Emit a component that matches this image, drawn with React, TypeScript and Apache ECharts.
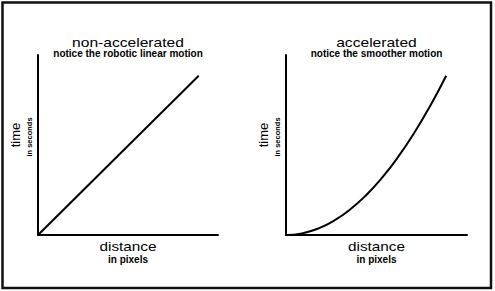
import React, { useEffect, useRef } from "react";
import * as echarts from "echarts";

// Reference values
const linearDistance = [0, 100];
const linearTime = [0, 100];
const accelDistance = [0, 10, 20, 30, 40, 50, 60, 70, 80, 90, 100];
const accelTime = [0, 1, 4, 9, 16, 25, 36, 49, 64, 81, 100];

const panelTitles = ["non-accelerated", "accelerated"];
const panelSubtitles = ["notice the robotic linear motion", "notice the smoother motion"];
const xAxisTitle = "distance";
const xAxisSubtitle = "in pixels";
const yAxisTitle = "time";
const yAxisSubtitle = "in seconds";

const FONT = "'Liberation Sans', Arial, Helvetica, sans-serif";

export default function App() {
  const ref = useRef<HTMLDivElement>(null);

  useEffect(() => {
    if (!ref.current) return;
    const chart = echarts.init(ref.current, null, { renderer: "svg" });

    const grids = [
      { left: 38, top: 55, width: 180, height: 180 },
      { left: 286, top: 55, width: 181, height: 180 },
    ];

    const axisCommon = {
      type: "value" as const,
      min: 0,
      axisLine: { show: true, onZero: false, lineStyle: { color: "#000", width: 2 } },
      axisTick: { show: false },
      axisLabel: { show: false },
      splitLine: { show: false },
    };

    const texts: any[] = [];
    grids.forEach((g, i) => {
      const cx = g.left + g.width / 2;
      const ax = g.left;
      texts.push(
        {
          type: "text",
          x: cx,
          y: 42.3,
          scaleX: 1.3,
          style: { text: panelTitles[i], font: `12px ${FONT}`, fill: "#000", textAlign: "center", textVerticalAlign: "middle" },
        },
        {
          type: "text",
          x: cx,
          y: 53.3,
          style: { text: panelSubtitles[i], font: `bold 10px ${FONT}`, fill: "#000", textAlign: "center", textVerticalAlign: "middle" },
        },
        {
          type: "text",
          x: cx,
          y: 246.2,
          scaleX: 1.18,
          style: { text: xAxisTitle, font: `13px ${FONT}`, fill: "#000", textAlign: "center", textVerticalAlign: "middle" },
        },
        {
          type: "text",
          x: cx,
          y: 259.5,
          style: { text: xAxisSubtitle, font: `bold 10px ${FONT}`, fill: "#000", textAlign: "center", textVerticalAlign: "middle" },
        },
        {
          type: "text",
          x: ax - 22.5,
          y: 135,
          rotation: Math.PI / 2,
          style: { text: yAxisTitle, font: `13px ${FONT}`, fill: "#000", textAlign: "center", textVerticalAlign: "middle" },
        },
        {
          type: "text",
          x: ax - 8.8,
          y: 137,
          rotation: Math.PI / 2,
          style: { text: yAxisSubtitle, font: `bold 7.5px ${FONT}`, fill: "#000", textAlign: "center", textVerticalAlign: "middle" },
        }
      );
    });

    chart.setOption({
      animation: false,
      backgroundColor: "#fff",
      grid: grids,
      xAxis: [
        { ...axisCommon, gridIndex: 0, max: 112 },
        { ...axisCommon, gridIndex: 1, max: 113 },
      ],
      yAxis: [
        { ...axisCommon, gridIndex: 0, max: 113 },
        { ...axisCommon, gridIndex: 1, max: 113 },
      ],
      series: [
        {
          type: "line",
          xAxisIndex: 0,
          yAxisIndex: 0,
          data: linearDistance.map((d, i) => [d, linearTime[i]]),
          showSymbol: false,
          lineStyle: { color: "#000", width: 2 },
        },
        {
          type: "line",
          xAxisIndex: 1,
          yAxisIndex: 1,
          smooth: true,
          data: accelDistance.map((d, i) => [d, accelTime[i]]),
          showSymbol: false,
          lineStyle: { color: "#000", width: 2 },
        },
      ],
      graphic: [
        {
          type: "rect",
          shape: { x: 2.5, y: 2.5, width: 488.5, height: 285.5 },
          style: { fill: "none", stroke: "#111", lineWidth: 2.5 },
        },
        ...texts,
      ],
    });

    return () => chart.dispose();
  }, []);

  return (
    <div
      ref={ref}
      style={{ position: "fixed", left: 0, top: 0, width: 495, height: 291 }}
    />
  );
}
